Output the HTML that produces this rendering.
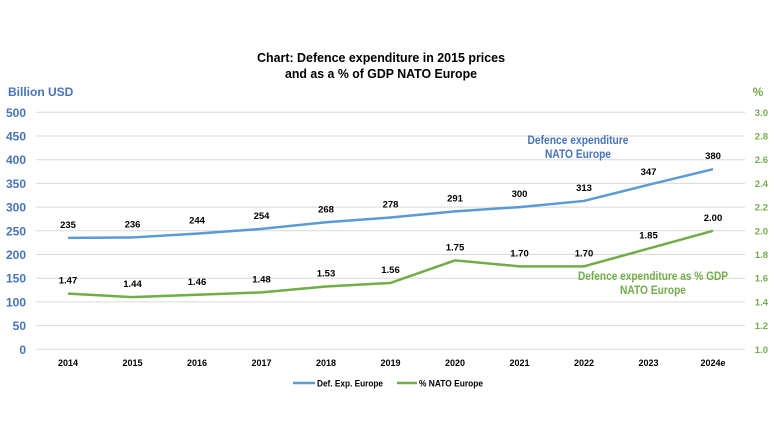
<!DOCTYPE html>
<html><head><meta charset="utf-8"><style>
body{margin:0;background:#fff;font-family:"Liberation Sans",sans-serif}
svg text{font-family:"Liberation Sans",sans-serif;font-weight:bold}
</style></head><body>
<svg id="c" width="774" height="440" viewBox="0 0 774 440">
<text x="381" y="62" text-anchor="middle" font-size="13" textLength="248" lengthAdjust="spacingAndGlyphs">Chart: Defence expenditure in 2015 prices</text>
<text x="381" y="78" text-anchor="middle" font-size="13" textLength="192" lengthAdjust="spacingAndGlyphs">and as a % of GDP NATO Europe</text>
<text x="8" y="96" font-size="12" fill="#4472C4">Billion USD</text>
<text x="758" y="96" font-size="12" fill="#70AD47" text-anchor="middle">%</text>
<g id="grid"></g><g id="series"></g>
<text x="578" y="144" font-size="11.5" fill="#4472C4" text-anchor="middle" textLength="101" lengthAdjust="spacingAndGlyphs">Defence expenditure</text>
<text x="578" y="158" font-size="11.5" fill="#4472C4" text-anchor="middle" textLength="66" lengthAdjust="spacingAndGlyphs">NATO Europe</text>
<text x="653" y="280" font-size="11.5" fill="#70AD47" text-anchor="middle" textLength="150" lengthAdjust="spacingAndGlyphs">Defence expenditure as % GDP</text>
<text x="653" y="294" font-size="11.5" fill="#70AD47" text-anchor="middle" textLength="66" lengthAdjust="spacingAndGlyphs">NATO Europe</text>
<g>
<line x1="293" y1="383" x2="315" y2="383" stroke="#5B9BD5" stroke-width="2.5"/>
<text x="317" y="386.5" font-size="9.5" textLength="66" lengthAdjust="spacingAndGlyphs">Def. Exp. Europe</text>
<line x1="397" y1="383" x2="417" y2="383" stroke="#70AD47" stroke-width="2.5"/>
<text x="419" y="386.5" font-size="9.5" textLength="64" lengthAdjust="spacingAndGlyphs">% NATO Europe</text>
</g>
</svg>
<script>
const categories=["2014","2015","2016","2017","2018","2019","2020","2021","2022","2023","2024e"];
const spending=[235,236,244,254,268,278,291,300,313,347,380];
const pctGdp=[1.47,1.44,1.46,1.48,1.53,1.56,1.75,1.70,1.70,1.85,2.00];
const leftTicks=[0,50,100,150,200,250,300,350,400,450,500];
const rightTicks=["1.0","1.2","1.4","1.6","1.8","2.0","2.2","2.4","2.6","2.8","3.0"];
const NS="http://www.w3.org/2000/svg";
const plotTop=112.3,plotBot=349.3;
const yL=v=>plotBot-(v/500)*(plotBot-plotTop);
const yR=v=>plotBot-((v-1)/2)*(plotBot-plotTop);
const xC=i=>68+i*64.5;
function mk(tag,attrs,parent,txt){const e=document.createElementNS(NS,tag);for(const k in attrs)e.setAttribute(k,attrs[k]);if(txt!==undefined)e.textContent=txt;parent.appendChild(e);return e;}
const g=document.getElementById('grid'),s=document.getElementById('series');
leftTicks.forEach((t,i)=>{
  const y=yL(t);
  const l=mk('line',{x1:36,x2:745,y1:y,y2:y,stroke:'#d9d9d9','stroke-width':1},g);
  
  
  const a=mk('text',{x:26,y:y+4.5,'font-size':12,fill:'#4472C4','text-anchor':'end'},g,String(t));
  
  
  const b=mk('text',{x:768,y:y+3.5,'font-size':9.5,fill:'#70AD47','text-anchor':'end'},g,rightTicks[i]);
  
  
});
categories.forEach((c,i)=>{
  const t=mk('text',{x:xC(i),y:366,'font-size':9,'text-anchor':'middle'},g,c);
  
  
});
const pb=mk('polyline',{points:spending.map((v,i)=>xC(i)+','+yL(v)).join(' '),fill:'none',stroke:'#5B9BD5','stroke-width':2.5},s);


const pg=mk('polyline',{points:pctGdp.map((v,i)=>xC(i)+','+yR(v)).join(' '),fill:'none',stroke:'#70AD47','stroke-width':2.5},s);


spending.forEach((v,i)=>{
  const t=mk('text',{x:xC(i),y:yL(v)-10,'font-size':9.5,'text-anchor':'middle'},s,String(v));
  
  
});
pctGdp.forEach((v,i)=>{
  const t=mk('text',{x:xC(i),y:yR(v)-10,'font-size':9.5,'text-anchor':'middle'},s,v.toFixed(2));
  
  
});
</script>
</body></html>
